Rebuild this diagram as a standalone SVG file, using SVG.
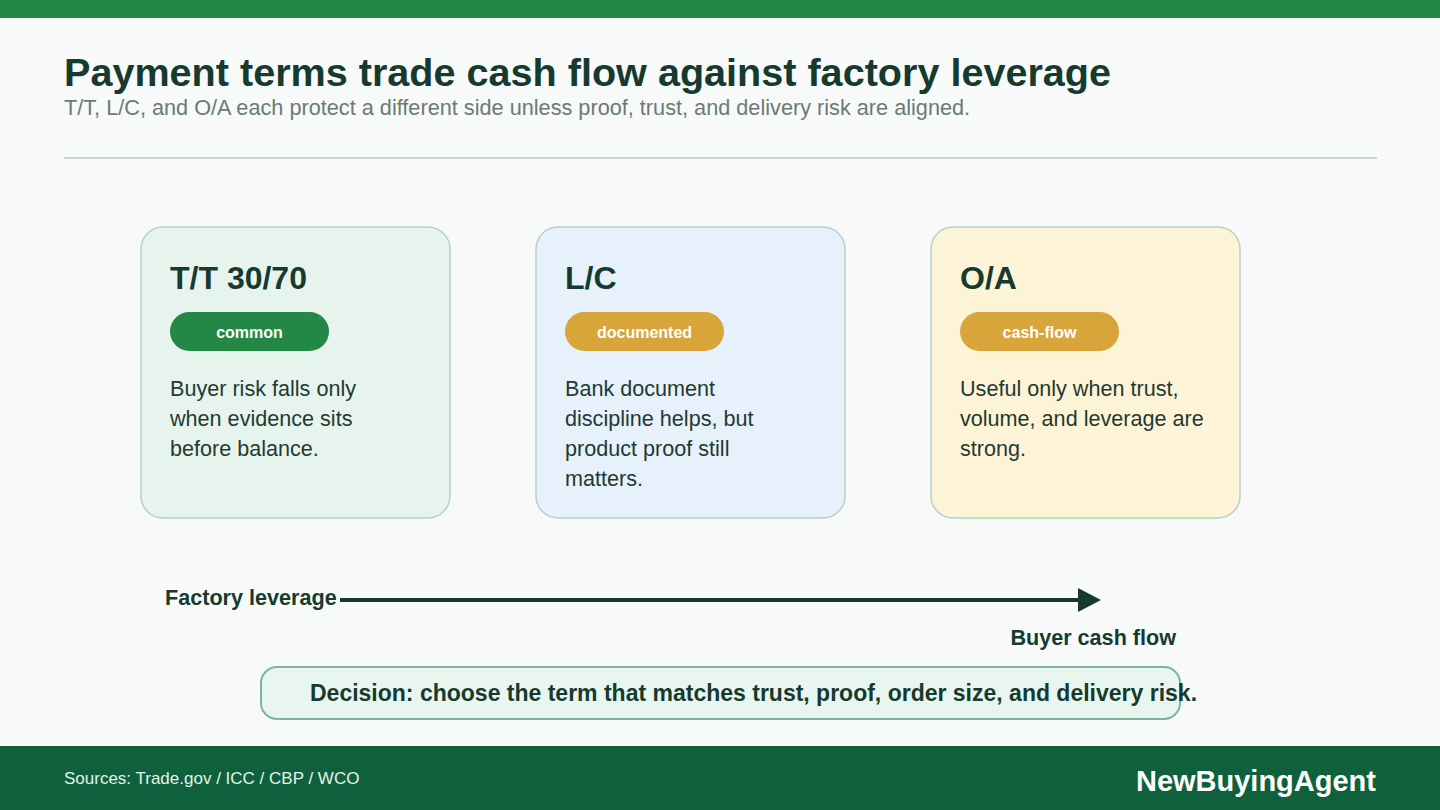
<svg xmlns="http://www.w3.org/2000/svg" width="1440" height="810" viewBox="0 0 1440 810">
<defs>
<style>
.t{font-family:"Liberation Sans",Arial,sans-serif}
.card{stroke:#b5d2c6;stroke-width:1.5}
.ct{font-size:32px;font-weight:bold;fill:#163a2e}
.pt{font-size:16px;font-weight:bold;fill:#ffffff;text-anchor:middle}
.body{font-size:21.6px;fill:#1f3a30}
.lbl{font-size:21.6px;font-weight:bold;fill:#163a2e}
</style>
</defs>
<rect width="1440" height="810" fill="#f7faf9"/>
<rect width="1440" height="18" fill="#238845"/>
<text class="t" x="64" y="86" font-size="39.6" font-weight="bold" fill="#163a2e">Payment terms trade cash flow against factory leverage</text>
<text class="t" x="64" y="115" font-size="21.7" fill="#6b7a75">T/T, L/C, and O/A each protect a different side unless proof, trust, and delivery risk are aligned.</text>
<rect x="64" y="157" width="1313" height="2" fill="#c5d9d1"/>

<g id="card-tt">
<rect class="card" x="141" y="227" width="309" height="291" rx="22" fill="#e7f4ee"/>
<text class="t ct" x="170" y="289">T/T 30/70</text>
<rect x="170" y="312" width="159" height="39" rx="19.5" fill="#238845"/>
<text class="t pt" x="249.5" y="338">common</text>
<text class="t body" x="170" y="396">Buyer risk falls only</text>
<text class="t body" x="170" y="426">when evidence sits</text>
<text class="t body" x="170" y="456">before balance.</text>
</g>
<g id="card-lc">
<rect class="card" x="536" y="227" width="309" height="291" rx="22" fill="#e6f1fb"/>
<text class="t ct" x="565" y="289">L/C</text>
<rect x="565" y="312" width="159" height="39" rx="19.5" fill="#d7a53a"/>
<text class="t pt" x="644.5" y="338">documented</text>
<text class="t body" x="565" y="396">Bank document</text>
<text class="t body" x="565" y="426">discipline helps, but</text>
<text class="t body" x="565" y="456">product proof still</text>
<text class="t body" x="565" y="486">matters.</text>
</g>
<g id="card-oa">
<rect class="card" x="931" y="227" width="309" height="291" rx="22" fill="#fdf4d8"/>
<text class="t ct" x="960" y="289">O/A</text>
<rect x="960" y="312" width="159" height="39" rx="19.5" fill="#d7a53a"/>
<text class="t pt" x="1039.5" y="338">cash-flow</text>
<text class="t body" x="960" y="396">Useful only when trust,</text>
<text class="t body" x="960" y="426">volume, and leverage are</text>
<text class="t body" x="960" y="456">strong.</text>
</g>

<g id="connectors">
<line x1="340" y1="600" x2="1080" y2="600" stroke="#163a2e" stroke-width="4"/>
<polygon points="1078,588 1101,600 1078,612" fill="#163a2e"/>
</g>
<g id="axis-labels">
<text class="t lbl" x="165" y="605">Factory leverage</text>
<text class="t lbl" x="1176" y="645" text-anchor="end">Buyer cash flow</text>
</g>

<g id="decision">
<rect x="261" y="667" width="919" height="52" rx="16" fill="#e9f5ef" stroke="#7fb59a" stroke-width="2"/>
<text class="t" x="310" y="701" font-size="23" font-weight="bold" fill="#163a2e">Decision: choose the term that matches trust, proof, order size, and delivery risk.</text>
</g>

<rect x="0" y="746" width="1440" height="64" fill="#0f613d"/>
<text class="t" x="64" y="784" font-size="17" fill="#e6f1ea">Sources: Trade.gov / ICC / CBP / WCO</text>
<text class="t" x="1376" y="791" font-size="29" font-weight="bold" fill="#ffffff" text-anchor="end">NewBuyingAgent</text>
</svg>
